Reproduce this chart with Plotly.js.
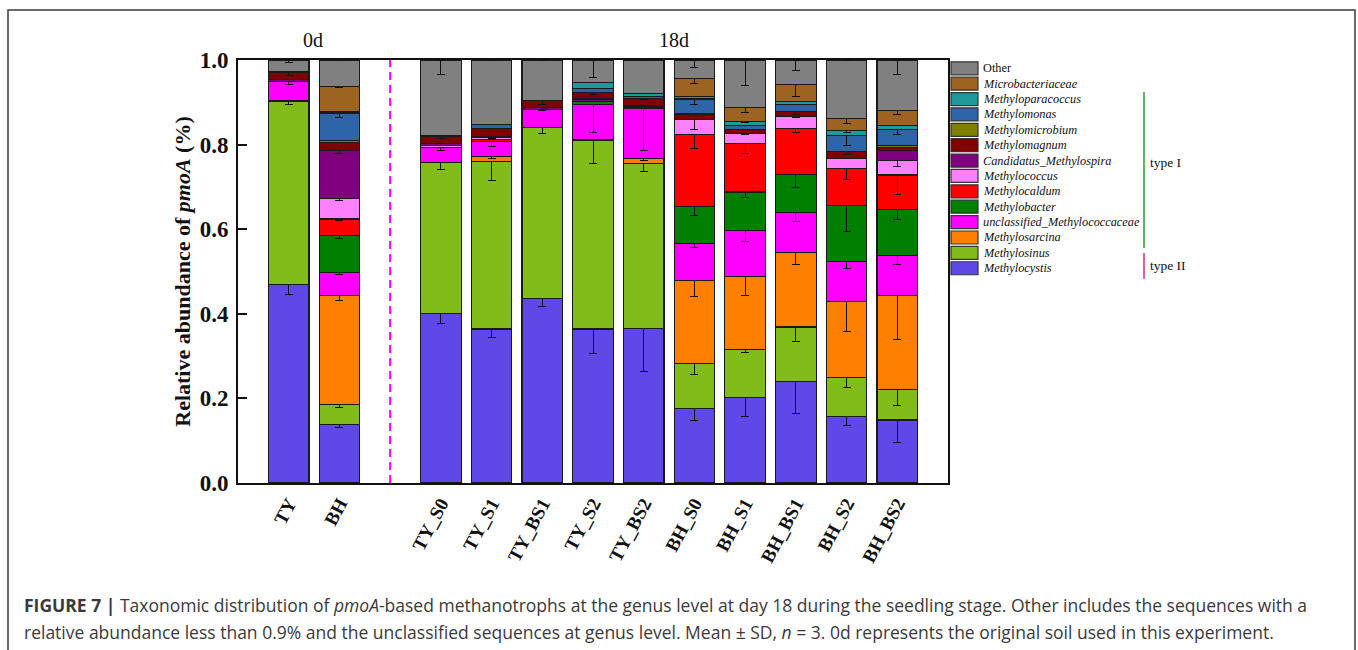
<!DOCTYPE html>
<html>
<head>
<meta charset="utf-8">
<script src="https://cdn.plot.ly/plotly-3.0.1.min.js"></script>
<style>html,body{margin:0;padding:0;background:#fff;}#chart{width:1358px;height:650px;}</style>
</head>
<body>
<div id="chart"></div>
<script>
// ---- categories ----
const samples = ['TY','BH','TY_S0','TY_S1','TY_BS1','TY_S2','TY_BS2','BH_S0','BH_S1','BH_BS1','BH_S2','BH_BS2'];
const categoryOrder = ['TY','BH',' ','TY_S0','TY_S1','TY_BS1','TY_S2','TY_BS2','BH_S0','BH_S1','BH_BS1','BH_S2','BH_BS2'];
const groupLabels = ['0d','18d'];

// ---- series values (bottom to top of stack) ----
const methylocystis     = [0.470,0.139,0.400,0.364,0.436,0.364,0.366,0.177,0.203,0.240,0.157,0.149];
const methylosinus      = [0.433,0.047,0.358,0.396,0.404,0.445,0.390,0.106,0.113,0.129,0.093,0.072];
const methylosarcina    = [0,0.258,0,0.011,0,0.003,0.012,0.195,0.173,0.176,0.180,0.223];
const unclassifiedMc    = [0.047,0.053,0.036,0.037,0.043,0.083,0.117,0.089,0.108,0.094,0.094,0.093];
const methylobacter     = [0,0.089,0,0,0,0.007,0,0.087,0.091,0.091,0.132,0.110];
const methylocaldum     = [0,0.038,0,0.004,0,0,0,0.170,0.115,0.109,0.088,0.081];
const methylococcus     = [0,0.049,0.004,0.005,0,0,0.004,0.035,0.023,0.028,0.023,0.034];
const candidatusMs      = [0.004,0.113,0.004,0.003,0.004,0.006,0.004,0,0,0,0,0.025];
const methylomagnum     = [0.016,0.019,0.017,0.019,0.018,0.016,0.016,0.013,0.009,0.011,0.016,0.007];
const methylomicrobium  = [0.002,0.004,0.003,0,0,0,0,0.002,0,0,0,0.004];
const methylomonas      = [0,0.065,0,0.008,0,0.008,0.005,0.034,0.010,0.016,0.038,0.038];
const methyloparacoccus = [0,0.003,0,0,0,0.014,0.006,0.006,0.010,0.007,0.012,0.010];
const microbacteriaceae = [0,0.061,0,0,0,0,0,0.042,0.033,0.042,0.028,0.034];
const other             = [0.028,0.062,0.178,0.153,0.095,0.054,0.080,0.044,0.112,0.057,0.139,0.120];

// ---- standard deviations (null = no error bar drawn) ----
const sdMethylocystis     = [0.024,0.007,0.022,0.020,0.019,0.059,0.102,0.030,0.046,0.075,0.022,0.054];
const sdMethylosinus      = [0.008,0.008,0.016,0.044,0.013,0.054,0.020,0.026,0.008,0.035,0.024,0.038];
const sdMethylosarcina    = [null,0.013,null,0.003,null,null,0.005,0.036,0.046,0.028,0.073,0.105];
const sdUnclassifiedMc    = [0.008,0.005,0.009,0.012,0.003,0.066,0.098,0.011,0.025,0.021,0.018,0.020];
const sdMethylobacter     = [null,0.007,null,null,null,null,null,0.021,0.014,0.032,0.062,0.025];
const sdMethylocaldum     = [null,0.003,null,null,null,null,null,0.034,0.024,0.010,0.026,0.046];
const sdMethylococcus     = [null,0.004,null,0.002,null,null,null,0.023,0.002,0.003,null,0.014];
const sdCandidatusMs      = [null,0.006,null,null,null,null,null,null,null,null,null,null];
const sdMethylomagnum     = [0.006,null,0.005,null,0.010,0.005,0.003,null,null,0.008,0.006,null];
const sdMethylomicrobium  = [null,null,null,null,null,null,null,null,null,null,null,null];
const sdMethylomonas      = [null,0.009,null,null,null,null,null,0.013,null,null,0.023,0.012];
const sdMethyloparacoccus = [null,null,null,null,null,null,null,null,0.002,null,0.004,null];
const sdMicrobacteriaceae = [null,0.002,null,null,null,null,null,0.011,0.013,0.030,0.012,0.009];
const sdOther             = [0.006,null,0.035,null,null,0.041,null,0.017,0.061,0.024,null,0.035];

const seriesNames = ['Methylocystis','Methylosinus','Methylosarcina','unclassified_Methylococcaceae','Methylobacter','Methylocaldum','Methylococcus','Candidatus_Methylospira','Methylomagnum','Methylomicrobium','Methylomonas','Methyloparacoccus','Microbacteriaceae','Other'];
const seriesColors = ['#5F48E8','#82BC18','#FF8000','#FF00FF','#008000','#FF0000','#FF80FF','#800080','#800000','#808000','#2E64A8','#1F9A9A','#9C6420','#808080'];
const seriesValues = [methylocystis,methylosinus,methylosarcina,unclassifiedMc,methylobacter,methylocaldum,methylococcus,candidatusMs,methylomagnum,methylomicrobium,methylomonas,methyloparacoccus,microbacteriaceae,other];
const seriesSD = [sdMethylocystis,sdMethylosinus,sdMethylosarcina,sdUnclassifiedMc,sdMethylobacter,sdMethylocaldum,sdMethylococcus,sdCandidatusMs,sdMethylomagnum,sdMethylomicrobium,sdMethylomonas,sdMethyloparacoccus,sdMicrobacteriaceae,sdOther];
const yTickVals = [0,0.2,0.4,0.6,0.8,1.0];
const yTickText = ['0.0','0.2','0.4','0.6','0.8','1.0'];

// ---- geometry (pixels of the 1358x650 canvas) ----
const W = 1358, H = 650;
const L = 238, R = 948, T = 60, B = 483;
const px = x => (x - L) / (R - L);
const py = y => (B - y) / (B - T);
const SERIF = 'Liberation Serif, Times New Roman, serif';
const SANS = 'Open Sans, Liberation Sans, Arial, sans-serif';

const traces = seriesNames.map((name, i) => ({
  type: 'bar',
  name: name,
  x: samples,
  y: seriesValues[i],
  width: 0.8,
  marker: {color: seriesColors[i], line: {color: '#1a1a1a', width: 1.2}},
  error_y: {
    type: 'data', symmetric: false, visible: true,
    array: seriesSD[i].map(v => v == null ? null : 0),
    arrayminus: seriesSD[i],
    color: '#111', thickness: 1, width: 4
  },
  showlegend: false,
  hoverinfo: 'name+y'
}));

const shapes = [];
const annotations = [];

// outer frame
shapes.push({type:'rect', xref:'paper', yref:'paper', x0:px(8), x1:px(1355), y0:py(10), y1:py(665),
  line:{color:'#3a3a3a', width:1.5}, fillcolor:'rgba(0,0,0,0)', layer:'below'});
// dashed separator between 0d and 18d
shapes.push({type:'line', xref:'x', yref:'y', x0:2, x1:2, y0:0, y1:1,
  line:{color:'#FF00FF', width:2, dash:'8px,5px'}});

// group labels
annotations.push({xref:'paper', yref:'paper', x:px(313), y:py(40), text:groupLabels[0], showarrow:false,
  font:{family:SERIF, size:20, color:'#111'}, xanchor:'center', yanchor:'middle'});
annotations.push({xref:'paper', yref:'paper', x:px(674), y:py(40), text:groupLabels[1], showarrow:false,
  font:{family:SERIF, size:20, color:'#111'}, xanchor:'center', yanchor:'middle'});

// manual legend (top: Other ... bottom: Methylocystis)
const legTop = 68.3, legStep = 15.38;
for (let k = 0; k < seriesNames.length; k++) {
  const i = seriesNames.length - 1 - k;
  const cy = legTop + k * legStep;
  shapes.push({type:'rect', xref:'paper', yref:'paper', x0:px(951), x1:px(978), y0:py(cy+6.5), y1:py(cy-6.5),
    fillcolor: seriesColors[i], line:{color:'#333', width:1.2}});
  const nm = seriesNames[i];
  annotations.push({xref:'paper', yref:'paper', x:px(981), y:py(cy), xanchor:'left', yanchor:'middle',
    text: nm === 'Other' ? nm : '<i>' + nm + '</i>', showarrow:false,
    font:{family:SERIF, size:12.3, color:'#111'}});
}
// type I / type II brackets
shapes.push({type:'line', xref:'paper', yref:'paper', x0:px(1144), x1:px(1144), y0:py(92), y1:py(248),
  line:{color:'#2E9A2E', width:1.5}});
shapes.push({type:'line', xref:'paper', yref:'paper', x0:px(1144), x1:px(1144), y0:py(253), y1:py(279),
  line:{color:'#E0287A', width:1.5}});
annotations.push({xref:'paper', yref:'paper', x:px(1148), y:py(162), xanchor:'left', yanchor:'middle',
  text:'type I', showarrow:false, font:{family:SERIF, size:13.5, color:'#111'}});
annotations.push({xref:'paper', yref:'paper', x:px(1148), y:py(265), xanchor:'left', yanchor:'middle',
  text:'type II', showarrow:false, font:{family:SERIF, size:13.5, color:'#111'}});

// caption
annotations.push({xref:'paper', yref:'paper', x:px(22), y:py(605), xanchor:'left', yanchor:'middle', showarrow:false,
  text:'<b>FIGURE 7 |</b> Taxonomic distribution of <i>pmoA</i>-based methanotrophs at the genus level at day 18 during the seedling stage. Other includes the sequences with a',
  font:{family:SANS, size:17.5, color:'#3a3a3a'}});
annotations.push({xref:'paper', yref:'paper', x:px(22), y:py(632), xanchor:'left', yanchor:'middle', showarrow:false,
  text:'relative abundance less than 0.9% and the unclassified sequences at genus level. Mean \u00b1 SD, <i>n</i> = 3. 0d represents the original soil used in this experiment.',
  font:{family:SANS, size:17.5, color:'#3a3a3a'}});

const layout = {
  width: W, height: H,
  margin: {l: L, r: W - R, t: T, b: H - B, pad: 0},
  paper_bgcolor: '#fff', plot_bgcolor: '#fff',
  barmode: 'stack',
  showlegend: false,
  xaxis: {
    type: 'category', categoryorder: 'array', categoryarray: categoryOrder,
    range: [-1, 13], showgrid: false, zeroline: false,
    showline: true, linecolor: '#111', linewidth: 2, mirror: true,
    ticks: '', tickangle: -62,
    tickfont: {family: SERIF, size: 19, color: '#111', weight: 'bold'},
    fixedrange: true
  },
  yaxis: {
    range: [0, 1], showgrid: false, zeroline: false,
    showline: true, linecolor: '#111', linewidth: 2, mirror: true,
    ticks: 'inside', ticklen: 9, tickwidth: 2, tickcolor: '#111',
    ticklabelstandoff: 3,
    tickvals: yTickVals, ticktext: yTickText,
    tickfont: {family: SERIF, size: 23, color: '#111', weight: 'bold'},
    title: {text: '<b>Relative abundance of <i>pmoA</i> (%)</b>', font: {family: SERIF, size: 22, color: '#111'}, standoff: 3},
    fixedrange: true
  },
  shapes: shapes,
  annotations: annotations
};

Plotly.newPlot('chart', traces, layout, {displayModeBar: false, staticPlot: true});
</script>
</body>
</html>
